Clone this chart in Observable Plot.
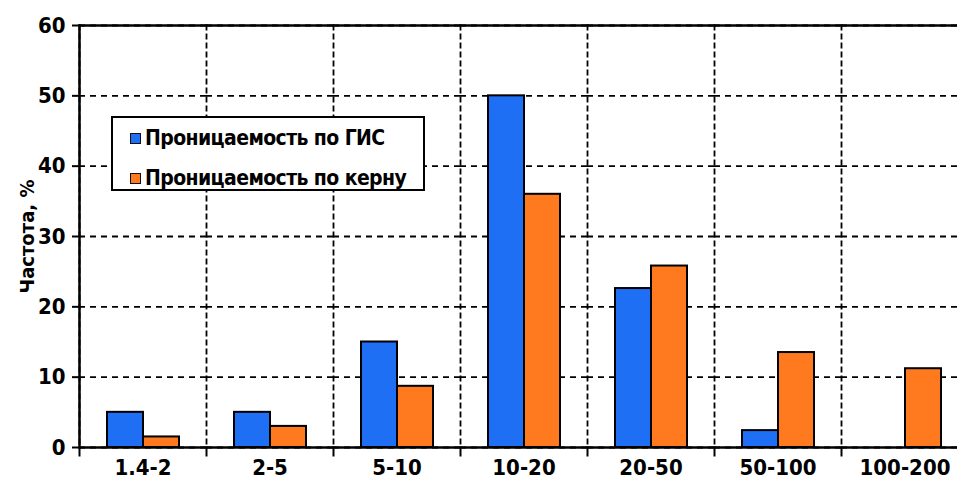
<!DOCTYPE html>
<html>
<head>
<meta charset="utf-8">
<script src="https://cdn.jsdelivr.net/npm/d3@7"></script>
<script src="https://cdn.jsdelivr.net/npm/@observablehq/plot@0.6"></script>
<style>
  html, body { margin: 0; padding: 0; background: #fff; overflow: hidden; }
  #wrap { position: relative; width: 957px; height: 486px; overflow: hidden; }
  #legend {
    position: absolute; left: 111px; top: 116px; width: 310px; height: 71px;
    border: 2px solid #000; background: #fff;
    font-family: "DejaVu Sans Condensed", "DejaVu Sans", sans-serif; font-weight: bold; font-size: 21px;
    letter-spacing: -0.6px; color: #000;
  }
  .row { position: absolute; left: 17px; display: flex; align-items: center; height: 24px; }
  .sw { width: 9px; height: 9px; border: 1.5px solid #111; margin-right: 4px; }
</style>
</head>
<body>
<div id="wrap"></div>
<script>
const categories = ["1.4-2", "2-5", "5-10", "10-20", "20-50", "50-100", "100-200"];
const seriesNames = ["Проницаемость по ГИС", "Проницаемость по керну"];
const gis  = [5, 5, 15, 50, 22.6, 2.4, 0];
const core = [1.5, 3, 8.7, 36, 25.8, 13.5, 11.2];
const yTicks = [0, 10, 20, 30, 40, 50, 60];
const colors = ["#1f6ff5", "#ff7a1f"];
const yLabel = "Частота, %";

const rows = categories.flatMap((c, i) => [
  {cat: c, series: seriesNames[0], v: gis[i]},
  {cat: c, series: seriesNames[1], v: core[i]}
]);

const W = 957, H = 486, mt = 25, mb = 39;
const plotH = H - mt - mb;

const chart = Plot.plot({
  width: W, height: H,
  marginLeft: 78, marginRight: -11, marginTop: mt, marginBottom: mb,
  style: {fontFamily: "'DejaVu Sans Condensed', 'DejaVu Sans', sans-serif", fontWeight: "bold", fontSize: "22px", color: "#000", background: "#fff"},
  fx: {domain: categories, padding: 0, label: null, axis: null},
  x: {domain: seriesNames, paddingInner: 0, paddingOuter: 0.72, axis: null},
  y: {domain: [0, 60], label: null},
  color: {domain: seriesNames, range: colors},
  marks: [
    Plot.gridY(yTicks, {stroke: "#000", strokeOpacity: 1, strokeWidth: 1.8, strokeDasharray: "6,5"}),
    Plot.frame({anchor: "left", stroke: "#000", strokeWidth: 1.8, strokeDasharray: "4,5"}),
    Plot.barY(rows, {fx: "cat", x: "series", y: "v", fill: "series", stroke: "#000", strokeWidth: 2}),
    Plot.ruleY([0], {stroke: "#000", strokeWidth: 2.5}),
    Plot.ruleY([60], {stroke: "#000", strokeWidth: 2.5}),
    Plot.frame({anchor: "left", insetTop: plotH, insetBottom: -8, stroke: "#000", strokeWidth: 2}),
    Plot.frame({anchor: "left", facetAnchor: "left", stroke: "#000", strokeWidth: 2.5}),
    Plot.axisY(yTicks, {tickSize: 7, tickPadding: 7, strokeWidth: 2, label: null, letterSpacing: "-1.5px"}),
    Plot.axisY([], {label: yLabel, labelAnchor: "center", labelArrow: "none", labelOffset: 60, fontSize: 20}),
    Plot.axisFx({anchor: "bottom", tickSize: 0, tickPadding: 12, label: null, letterSpacing: "-1.5px"})
  ]
});
document.getElementById("wrap").appendChild(chart);

const legend = document.createElement("div");
legend.id = "legend";
seriesNames.forEach((name, i) => {
  const r = document.createElement("div");
  r.className = "row";
  r.style.top = (8 + i * 40) + "px";
  const sw = document.createElement("span");
  sw.className = "sw";
  sw.style.background = colors[i];
  const t = document.createElement("span");
  t.textContent = name;
  r.appendChild(sw); r.appendChild(t);
  legend.appendChild(r);
});
document.getElementById("wrap").appendChild(legend);
</script>
</body>
</html>
